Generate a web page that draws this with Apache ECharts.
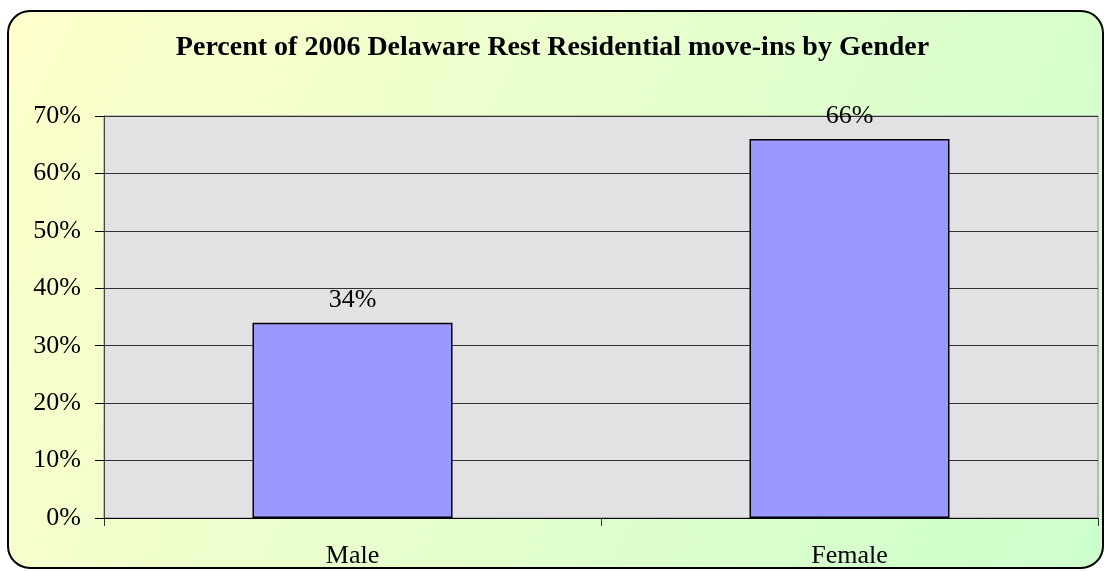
<!DOCTYPE html>
<html>
<head>
<meta charset="utf-8">
<script src="https://cdn.jsdelivr.net/npm/echarts@6/dist/echarts.min.js"></script>
<style>
  html, body { margin: 0; padding: 0; background: #fff; }
  #chart { width: 1105px; height: 571px; }
</style>
</head>
<body>
<div id="chart"></div>
<script>
var categories = ['Male', 'Female'];
var percents = [34, 66];
var yTicks = [0, 10, 20, 30, 40, 50, 60, 70];

var chart = echarts.init(document.getElementById('chart'));
var serif = '"Liberation Serif", "DejaVu Serif", serif';

chart.setOption({
    backgroundColor: '#ffffff',
    animation: false,
    graphic: [{
        type: 'rect',
        z: -10,
        shape: { x: 8, y: 11, width: 1095, height: 557, r: 22 },
        style: {
            fill: new echarts.graphic.LinearGradient(0, 0, 1, 1, [
                { offset: 0, color: '#ffffcc' },
                { offset: 1, color: '#ccffcc' }
            ]),
            stroke: '#000',
            lineWidth: 2
        }
    }],
    title: {
        text: 'Percent of 2006 Delaware Rest Residential move-ins by Gender',
        left: 'center',
        top: 29,
        textStyle: { fontFamily: serif, fontWeight: 'bold', fontSize: 28, color: '#000' }
    },
    grid: {
        left: 104,
        right: 7,
        top: 116,
        bottom: 53,
        show: true,
        backgroundColor: '#e2e2e4',
        borderColor: '#888',
        borderWidth: 1
    },
    xAxis: {
        type: 'category',
        data: categories,
        axisLine: { lineStyle: { color: '#000', width: 1 } },
        axisTick: { show: true, length: 8, lineStyle: { color: '#333' } },
        axisLabel: { fontFamily: serif, fontSize: 26, color: '#000', margin: 25 }
    },
    yAxis: {
        type: 'value',
        min: 0,
        max: 70,
        interval: 10,
        axisLine: { show: true, lineStyle: { color: '#444' } },
        axisTick: { show: true, length: 9, lineStyle: { color: '#000' } },
        axisLabel: {
            fontFamily: serif, fontSize: 26, color: '#000', margin: 23,
            formatter: function (v) { return yTicks.indexOf(v) >= 0 ? v + '%' : ''; }
        },
        splitLine: { lineStyle: { color: '#333', width: 1 } }
    },
    series: [{
        type: 'bar',
        data: percents,
        barWidth: 200,
        itemStyle: { color: '#9999ff', borderColor: '#000', borderWidth: 1.5 },
        label: {
            show: true,
            position: 'top',
            distance: 10,
            formatter: '{c}%',
            fontFamily: serif,
            fontSize: 26,
            color: '#000'
        }
    }]
});
</script>
</body>
</html>
